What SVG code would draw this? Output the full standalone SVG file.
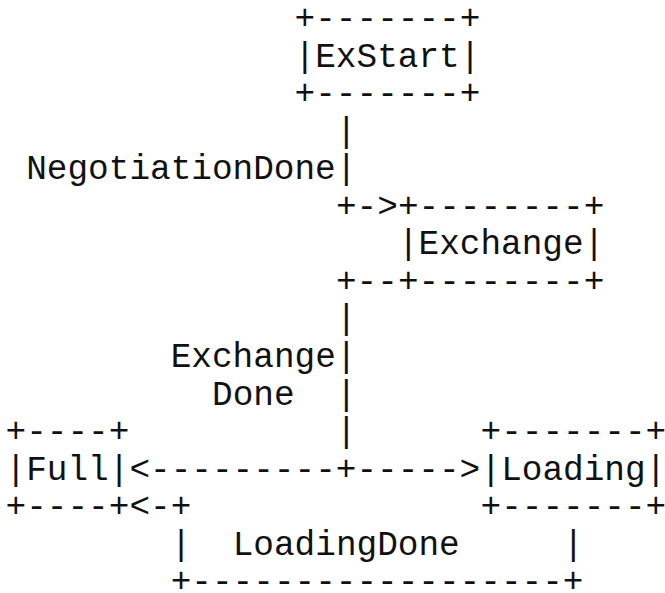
<svg xmlns="http://www.w3.org/2000/svg" width="665" height="593" viewBox="0 0 665 593">
<style>
text{font-family:"Liberation Mono","Courier New",monospace;font-size:34.4px;fill:#111;white-space:pre}
</style>
<rect width="665" height="593" fill="#fff"/>
<g id="connectors">
<text x="335.9" y="141.6">|</text>
<text x="335.9" y="179.2">|</text>
<text x="335.9" y="216.7">+-&gt;</text>
<text x="335.9" y="291.8">+--</text>
<text x="335.9" y="329.4">|</text>
<text x="335.9" y="366.9">|</text>
<text x="335.9" y="404.5">|</text>
<text x="335.9" y="442">|</text>
<text x="129.4" y="479.6">&lt;---------+-----&gt;</text>
<text x="129.4" y="517.1">&lt;-+</text>
<text x="170.7" y="554.7">|</text>
<text x="563" y="554.7">|</text>
<text x="170.7" y="592">+------------------+</text>
</g>
<g id="labels">
<text x="26.2" y="179.2">NegotiationDone</text>
<text x="170.7" y="366.9">Exchange</text>
<text x="212" y="404.5">Done</text>
<text x="232.7" y="554.7">LoadingDone</text>
</g>
<g id="node-exstart">
<text x="294.6" y="29">+-------+</text>
<text x="294.6" y="66.5">|ExStart|</text>
<text x="294.6" y="104.1">+-------+</text>
</g>
<g id="node-exchange">
<text x="397.9" y="216.7">+--------+</text>
<text x="397.9" y="254.3">|Exchange|</text>
<text x="397.9" y="291.8">+--------+</text>
</g>
<g id="node-full">
<text x="5.5" y="442">+----+</text>
<text x="5.5" y="479.6">|Full|</text>
<text x="5.5" y="517.1">+----+</text>
</g>
<g id="node-loading">
<text x="480.5" y="442">+-------+</text>
<text x="480.5" y="479.6">|Loading|</text>
<text x="480.5" y="517.1">+-------+</text>
</g>
</svg>
